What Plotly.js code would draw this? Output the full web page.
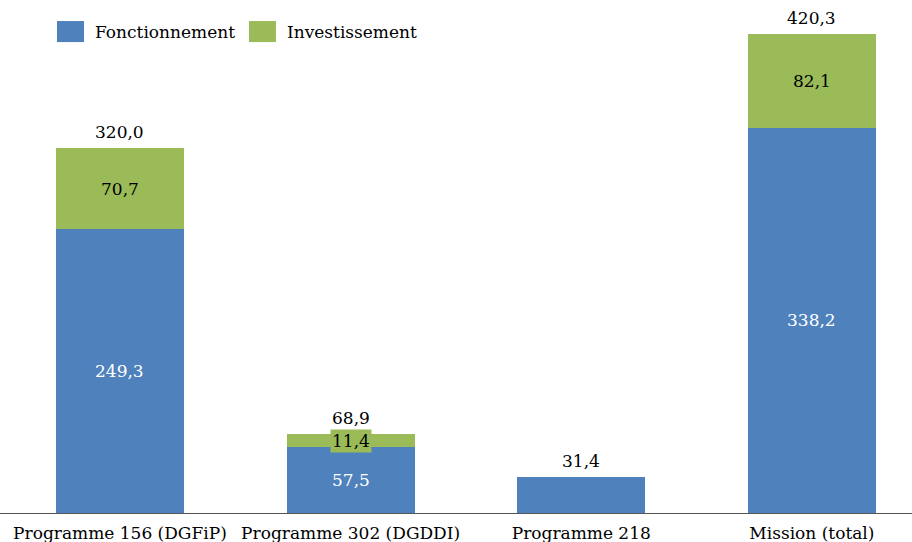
<!DOCTYPE html>
<html><head><meta charset="utf-8">
<script src="https://cdn.plot.ly/plotly-3.0.1.min.js"></script>
<style>body{margin:0}#c{width:912px;height:542px}</style>
</head><body><div id="c"></div>
<script>
const categories = ["Programme 156 (DGFiP)", "Programme 302 (DGDDI)", "Programme 218", "Mission (total)"];
const fonctionnement = [249.3, 57.5, 31.4, 338.2];
const investissement = [70.7, 11.4, 0, 82.1];
const totals = [320.0, 68.9, 31.4, 420.3];
const seriesNames = ["Fonctionnement", "Investissement"];
const BLUE = "#4F81BD", GREEN = "#9BBB59";
const FONT = "DejaVu Serif";
const FS = 17;
const fmt = v => v.toFixed(1).replace(".", ",");

const traces = [
  {type: "bar", name: seriesNames[0], x: categories, y: fonctionnement, marker: {color: BLUE}, hoverinfo: "none"},
  {type: "bar", name: seriesNames[1], x: categories, y: investissement, marker: {color: GREEN}, hoverinfo: "none"}
];
const annotations = [];
categories.forEach((c, i) => {
  annotations.push({x: c, y: totals[i], text: fmt(totals[i]), showarrow: false, yanchor: "bottom", yshift: 4,
    font: {family: FONT, size: FS, color: "#000"}});
  if (fonctionnement[i] > 0 && investissement[i] > 0) {
    annotations.push({x: c, y: fonctionnement[i] / 2, text: fmt(fonctionnement[i]), showarrow: false,
      font: {family: FONT, size: FS, color: "#fff"}});
  }
  if (investissement[i] > 0) {
    const small = investissement[i] < 20;
    annotations.push({x: c, y: fonctionnement[i] + investissement[i] / 2, text: fmt(investissement[i]), showarrow: false,
      font: {family: FONT, size: FS, color: "#000"}, bgcolor: small ? GREEN : "rgba(0,0,0,0)", borderpad: small ? 1 : 0});
  }
});
// custom legend
const legendItems = [[seriesNames[0], BLUE, 0.0625], [seriesNames[1], GREEN, 0.273]];
const shapes = [];
legendItems.forEach(([n, col, x0]) => {
  shapes.push({type: "rect", xref: "paper", yref: "paper", x0: x0, x1: x0 + 0.0296, y0: 0.918, y1: 0.959,
    fillcolor: col, line: {width: 0}});
  annotations.push({xref: "paper", yref: "paper", x: x0 + 0.0395, y: 0.937, xanchor: "left", yanchor: "middle",
    text: n, showarrow: false, font: {family: FONT, size: FS, color: "#000"}});
});
const layout = {
  width: 912, height: 542,
  margin: {l: 0, r: 0, t: 0, b: 29},
  barmode: "stack", bargap: 0.445,
  showlegend: false,
  paper_bgcolor: "#fff", plot_bgcolor: "#fff",
  font: {family: FONT, size: FS, color: "#000"},
  xaxis: {type: "category", range: [-0.52, 3.434], showline: true, linecolor: "#555", linewidth: 1,
    ticks: "", ticklen: 0, ticklabelstandoff: 5, tickfont: {family: FONT, size: FS, color: "#000"}, fixedrange: true},
  yaxis: {range: [0, 450.1], showgrid: false, zeroline: false, showticklabels: false, fixedrange: true},
  annotations: annotations, shapes: shapes
};
Plotly.newPlot("c", traces, layout, {displayModeBar: false, staticPlot: true});
</script></body></html>
